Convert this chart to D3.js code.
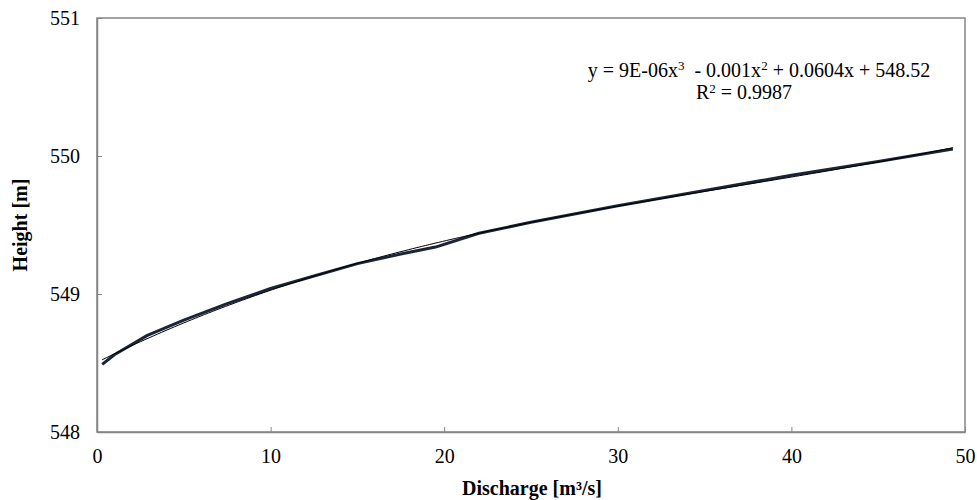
<!DOCTYPE html>
<html><head><meta charset="utf-8">
<script src="https://cdn.jsdelivr.net/npm/d3@7/dist/d3.min.js"></script>
</head><body style="margin:0;background:#fff"><div id="chart"></div>
<script>
const discharge = [0.3, 1.0, 2.9, 5.0, 7.5, 10.0, 12.5, 15.0, 17.5, 19.5, 22.0, 25.0, 30.0, 35.0, 40.0, 45.0, 49.3];
const height    = [548.49, 548.56, 548.70, 548.81, 548.93, 549.04, 549.13, 549.22, 549.29, 549.34, 549.44, 549.52, 549.64, 549.75, 549.86, 549.96, 550.05];
const xTicks = [0, 10, 20, 30, 40, 50];
const yTicks = [548, 549, 550, 551];
const xTitle = "Discharge [m³/s]";
const yTitle = "Height [m]";

const FONT = "'Liberation Serif'";
const W = 977, H = 500;
const m = {l: 97, r: 12, t: 18, b: 68};
const svg = d3.select("#chart").append("svg").attr("width", W).attr("height", H).style("display", "block");
const x = d3.scaleLinear().domain([0, 50]).range([m.l, W - m.r]);
const y = d3.scaleLinear().domain([548, 551]).range([H - m.b, m.t]);

// cubic least-squares fit (as the spreadsheet trendline)
function polyfit(xs, ys, deg) {
  const n = deg + 1;
  const A = Array.from({length: n}, () => new Array(n + 1).fill(0));
  xs.forEach((xv, k) => {
    for (let i = 0; i < n; i++) {
      for (let j = 0; j < n; j++) A[i][j] += Math.pow(xv, i + j);
      A[i][n] += ys[k] * Math.pow(xv, i);
    }
  });
  for (let i = 0; i < n; i++) {
    let p = i;
    for (let r = i + 1; r < n; r++) if (Math.abs(A[r][i]) > Math.abs(A[p][i])) p = r;
    [A[i], A[p]] = [A[p], A[i]];
    for (let r = 0; r < n; r++) {
      if (r === i) continue;
      const f = A[r][i] / A[i][i];
      for (let c = i; c <= n; c++) A[r][c] -= f * A[i][c];
    }
  }
  return A.map((row, i) => row[n] / row[i]);
}
const coef = polyfit(discharge, height, 3);
const fit = xv => coef.reduce((s, c, i) => s + c * Math.pow(xv, i), 0);
const x0 = d3.min(discharge), x1 = d3.max(discharge);
const trend = d3.range(0, 201).map(i => { const xv = x0 + (x1 - x0) * i / 200; return [xv, fit(xv)]; });

// frame
svg.append("rect").attr("x", x(0)).attr("y", y(551)).attr("width", x(50) - x(0)).attr("height", y(548) - y(551))
  .attr("fill", "none").attr("stroke", "#858585").attr("stroke-width", 1.5);

// axes with inward ticks
const gx = svg.append("g").attr("transform", `translate(0,${y(548)})`)
  .call(d3.axisBottom(x).tickValues(xTicks).tickFormat(d3.format("d")).tickSizeInner(-5).tickSizeOuter(0).tickPadding(17));
const gy = svg.append("g").attr("transform", `translate(${x(0)},0)`)
  .call(d3.axisLeft(y).tickValues(yTicks).tickFormat(d3.format("d")).tickSizeInner(-5).tickSizeOuter(0).tickPadding(17));
[gx, gy].forEach(g => {
  g.attr("font-family", "Liberation Serif").attr("font-size", 20);
  g.select(".domain").attr("stroke", "#858585").attr("stroke-width", 1.5);
  g.selectAll(".tick line").attr("stroke", "#858585");
  g.selectAll(".tick text").attr("fill", "#000");
});

// data line
const line = d3.line().x(d => x(d[0])).y(d => y(d[1]));
svg.append("path").datum(discharge.map((d, i) => [d, height[i]]))
  .attr("d", line).attr("fill", "none").attr("stroke", "#1c2535").attr("stroke-width", 3).attr("stroke-linejoin", "round");
// trendline
svg.append("path").datum(trend).attr("d", line).attr("fill", "none").attr("stroke", "#000").attr("stroke-width", 1);

// equation
const eq = svg.append("text").attr("x", 759).attr("y", 77).attr("text-anchor", "middle").style("white-space", "pre");
eq.append("tspan").text("y = 9E-06x");
eq.append("tspan").attr("class", "sup").attr("dy", -7).text("3");
eq.append("tspan").attr("dy", 7).text("  - 0.001x");
eq.append("tspan").attr("class", "sup").attr("dy", -7).text("2");
eq.append("tspan").attr("dy", 7).text(" + 0.0604x + 548.52");
const r2 = svg.append("text").attr("x", 744).attr("y", 99).attr("text-anchor", "middle");
r2.append("tspan").text("R");
r2.append("tspan").attr("class", "sup").attr("dy", -6).text("2");
r2.append("tspan").attr("dy", 6).text(" = 0.9987");

// axis titles
svg.append("text").attr("class", "title").attr("x", 532).attr("y", 495).attr("text-anchor", "middle").text(xTitle);
svg.append("text").attr("class", "title").attr("transform", `translate(27,${(y(548) + y(551)) / 2}) rotate(-90)`).attr("text-anchor", "middle").text(yTitle);

// fonts
svg.selectAll("text").style("font-family", FONT).style("font-size", "20px").style("fill", "#000");
svg.selectAll("text.title").style("font-weight", "bold");
svg.selectAll("tspan.sup").style("font-size", "13px");
</script></body></html>
